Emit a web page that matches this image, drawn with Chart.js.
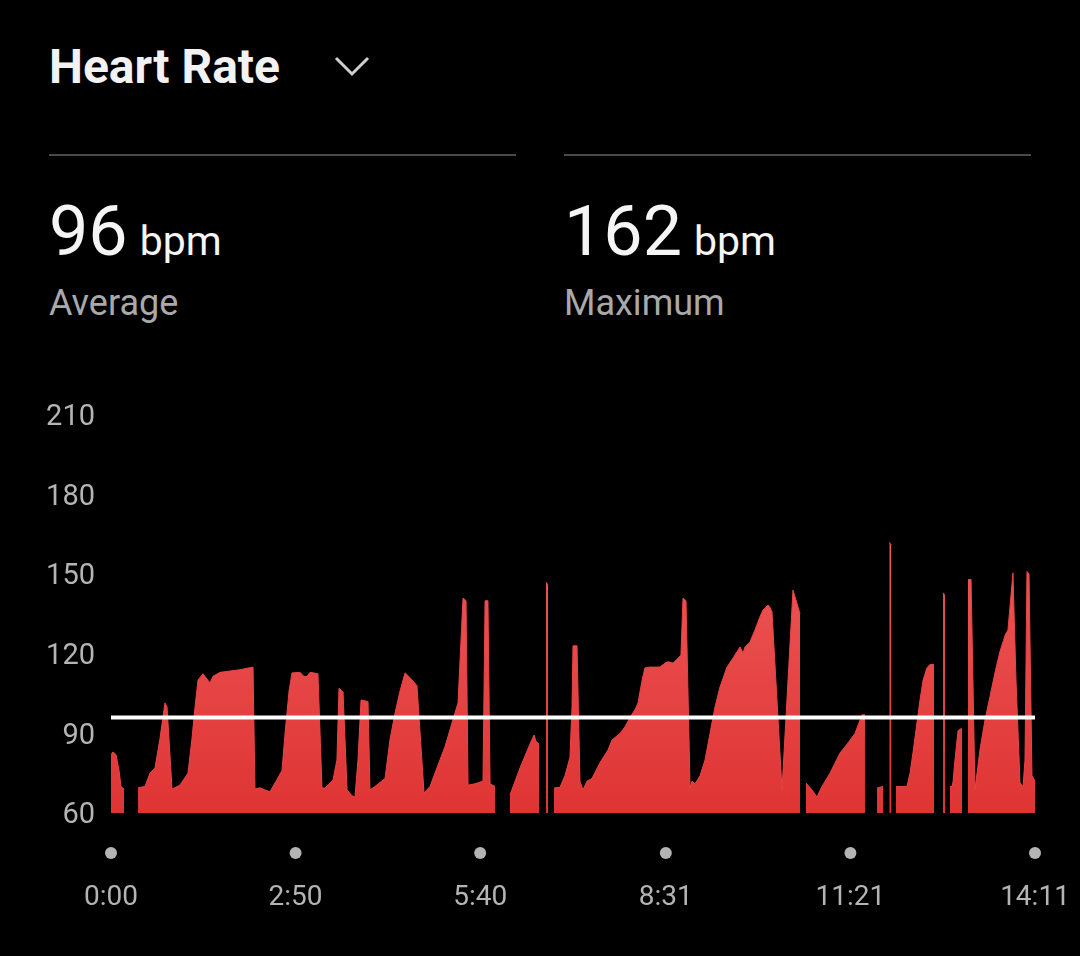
<!DOCTYPE html>
<html>
<head>
<meta charset="utf-8">
<script src="https://cdn.jsdelivr.net/npm/chart.js@4/dist/chart.umd.min.js"></script>
<style>
  html, body { margin: 0; padding: 0; background: #000; width: 1080px; height: 956px; overflow: hidden; font-family: Roboto, "Noto Sans", sans-serif; }
  .abs { position: absolute; }
  #title { left: 49px; top: 43px; font-size: 48px; line-height: 48px; font-weight: 700; color: #f2f2f2; white-space: nowrap; }
  .divider { top: 154px; height: 2px; width: 467px; background: #4a4a4a; }
  .stat { top: 196px; display: flex; align-items: baseline; color: #f5f5f5; white-space: nowrap; }
  .stat .num { font-size: 70px; line-height: 70px; font-weight: 400; }
  .stat .unit { font-size: 41px; line-height: 41px; margin-left: 12px; }
  .lbl { top: 285px; font-size: 36px; line-height: 36px; color: #a9a9a9; white-space: nowrap; }
  #wrap { position: absolute; left: 0; top: 380px; width: 1080px; height: 576px; }
</style>
</head>
<body>
<div id="title" class="abs">Heart Rate</div>
<svg class="abs" style="left:333px;top:55px" width="40" height="24"><polyline points="3,3 19,19 35,3" fill="none" stroke="#cfcfcf" stroke-width="3"/></svg>
<div class="abs divider" style="left:49px"></div>
<div class="abs divider" style="left:564px"></div>
<div class="abs stat" style="left:49px"><span class="num" id="avgNum"></span><span class="unit">bpm</span></div>
<div class="abs lbl" style="left:49px">Average</div>
<div class="abs stat" style="left:564px"><span class="num" id="maxNum"></span><span class="unit">bpm</span></div>
<div class="abs lbl" style="left:564px">Maximum</div>
<div id="wrap"><canvas id="c"></canvas></div>
<script>
// ---- data (minutes since 0:00, bpm; null = no reading) ----
const minutes = [
  0,1.8,4.6,7.4,9.2,12.0,12.5,
  24.9,31.3,35.9,40.5,45.1,49.7,51.6,56.2,63.5,70.9,74.6,77.4,80.1,84.7,89.3,91.2,93.9,100.4,109.6,118.8,130.8,
  132.6,137.2,141.8,146.4,152.0,157.5,160.3,164.0,166.7,174.1,177.7,180.5,183.3,190.6,
  194.3,197.1,204.5,208.1,210.0,213.7,217.4,222.0,224.7,227.5,230.3,236.7,238.5,243.1,252.4,256.9,261.6,266.2,270.8,275.4,281.8,
  288.3,293.8,300.2,307.6,316.8,319.6,324.2,327.0,328.8,335.2,342.6,344.5,347.2,349.1,353.7,355,
  367.5,376.7,385.9,389.6,391.4,394.2,396,
  400.6,402.5,404,
  408.0,413.5,418.1,422.7,424.6,425.5,429.2,431.9,434.7,438.4,443.0,450.4,457.7,461.4,468.8,473.4,478.0,482.6,485.4,489.1,491.8,
  496.4,505.6,510.2,513.0,517.6,522.2,524.9,526.8,529.6,533.3,535.1,537.9,542.5,547.1,551.7,556.3,560.9,567.3,572.9,579.3,582.1,
  583.9,588.5,593.1,597.7,600.5,605.1,606.9,608.8,618.0,628.1,631.8,634.6,636,
  640.1,645.6,650.2,654.8,662.2,671.4,678.8,685.2,691.7,694.4,697,
  705.5,711.0,713,
  716.8,718.7,720,
  723.0,733.1,735.9,738.6,742.3,745.1,747.9,751.5,754.3,758.0,760,
  766.3,768.1,770,
  772.7,774.6,775.5,777.3,780.1,783.8,785,
  789.3,792.1,795.7,800.3,804.9,809.6,814.2,818.8,822.0,823.4,826.1,830.7,833.5,837.2,840.0,841.8,843.6,845.5,848.2,851
];
const bpm = [
  82,83,82,76,70,69,null,
  69.5,70,75,77,88,101.5,100,69,70.5,75,88,100,110,112.5,110,109,111.5,113,113.5,114,115,
  69,69.5,68.7,68,72,76,90,106,112.8,113,111.5,111.5,113,112.5,
  69.4,69.4,72.4,80,107,105.7,68.7,66.5,66,80,102.6,102,68.7,70,73,87.5,97.7,106,112.8,111,108,
  67.5,70,77,85,97.7,101.5,141,140,70.5,71,72,140,140,71,70,null,
  66.8,77,86,89.4,87,86,null,
  147,146,null,
  69.4,69.7,74,81,100,123,123,72,68.7,72,73,79,83.7,87.5,90,92.5,96,99,101.5,110,114.7,
  115,115,116.5,117,116.5,118.3,119.5,141,140,69.4,72,71,74,80,90,100,107.5,115,118.4,122.6,120.3,
  122.6,124.5,129,134,136.5,138.4,137.5,135.8,68.7,144,139,135,null,
  71.3,68.7,66,70,75,82.6,86.4,90,97,97,null,
  69.4,70,null,
  162,161,null,
  70,70,75,82.6,94,102.6,110,114.7,116,116,null,
  143,142,null,
  70,70,71.7,80,91,92,null,
  148,148,68.7,83.7,95,104,113,121,125,127,129,150.5,110,71.3,70,80,151,150,74,72
];
const averageBpm = 96;
const maximumBpm = 162;
const yTicks = [60, 90, 120, 150, 180, 210];
const xTickValues = [0, 170, 340, 511, 681, 851];
const xTickLabels = ['0:00', '2:50', '5:40', '8:31', '11:21', '14:11'];

document.getElementById('avgNum').textContent = averageBpm;
document.getElementById('maxNum').textContent = maximumBpm;

const hrPoints = minutes.map((m, i) => ({ x: m, y: bpm[i] }));
const avgPoints = [{ x: xTickValues[0], y: averageBpm }, { x: xTickValues[xTickValues.length - 1], y: averageBpm }];

const dotsPlugin = {
  id: 'xdots',
  afterDraw(chart) {
    const xs = chart.scales.x, c = chart.ctx;
    c.save();
    c.fillStyle = '#b4b4b4';
    xTickValues.forEach(v => {
      c.beginPath();
      c.arc(xs.getPixelForValue(v), chart.chartArea.bottom + 40, 6, 0, Math.PI * 2);
      c.fill();
    });
    c.restore();
  }
};

function grad(ctx) {
  const chart = ctx.chart, area = chart.chartArea;
  if (!area) return '#e64040';
  const ys = chart.scales.y;
  const g = chart.ctx.createLinearGradient(0, ys.getPixelForValue(160), 0, area.bottom);
  g.addColorStop(0, '#ee5656');
  g.addColorStop(1, '#df3434');
  return g;
}

Chart.defaults.font.family = 'Roboto, "Noto Sans", sans-serif';
new Chart(document.getElementById('c'), {
  type: 'line',
  data: {
    datasets: [
      { data: avgPoints, borderColor: '#ffffff', borderWidth: 4, pointRadius: 0, fill: false, order: 0 },
      { data: hrPoints, backgroundColor: grad, borderColor: '#e84646', borderWidth: 1, pointRadius: 0,
        fill: 'start', spanGaps: false, tension: 0, order: 1 }
    ]
  },
  plugins: [dotsPlugin],
  options: {
    responsive: true,
    maintainAspectRatio: false,
    animation: false,
    layout: { padding: { top: 35, right: 45, left: 0, bottom: 0 } },
    plugins: { legend: { display: false }, tooltip: { enabled: false } },
    scales: {
      x: {
        type: 'linear', min: 0, max: 851,
        grid: { display: false, drawTicks: false }, border: { display: false },
        afterBuildTicks: s => { s.ticks = xTickValues.map(v => ({ value: v })); },
        afterFit: s => { s.height = 143; s.paddingLeft = 0; s.paddingRight = 0; },
        ticks: { autoSkip: false, maxRotation: 0, color: '#b4b4b4', font: { size: 28 }, padding: 68,
          callback: (v) => xTickLabels[xTickValues.indexOf(v)] }
      },
      y: {
        min: 60, max: 210,
        grid: { display: false, drawTicks: false }, border: { display: false },
        afterBuildTicks: s => { s.ticks = yTicks.map(v => ({ value: v })); },
        afterFit: s => { s.width = 111; s.paddingTop = 0; s.paddingBottom = 0; },
        ticks: { color: '#b4b4b4', font: { size: 29 }, padding: 16, labelOffset: 3 }
      }
    }
  }
});
</script>
</body>
</html>
